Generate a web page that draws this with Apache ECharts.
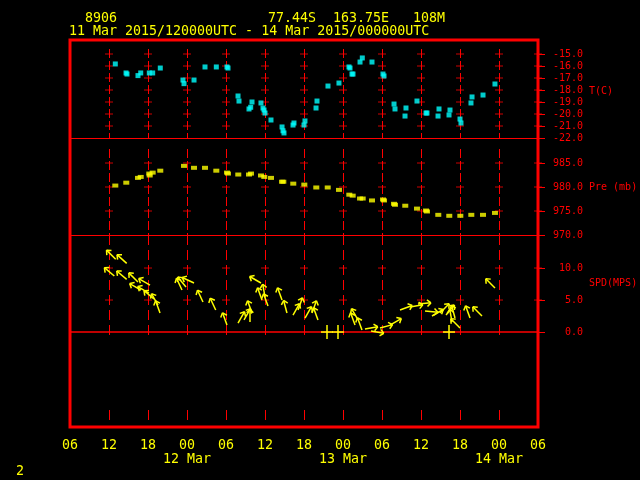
<!DOCTYPE html>
<html><head><meta charset="utf-8">
<script src="https://cdn.jsdelivr.net/npm/echarts@6/dist/echarts.min.js"></script>
<style>html,body{margin:0;padding:0;background:#000}#c{width:640px;height:480px}</style>
</head><body><div id="c"></div>
<script>
// ---- data (hours since 11 Mar 2015 00 UTC) ----
const xTickLabels = ['06','12','18','00','06','12','18','00','06','12','18','00','06'];
const dateLabels = {24:'12 Mar', 48:'13 Mar', 72:'14 Mar'};
const tTicks = [-22,-21,-20,-19,-18,-17,-16,-15];
const pTicks = [970,975,980,985];
const sTicks = [0,5,10];

const tHours = [12.97,14.62,14.77,16.46,16.88,18.2,18.72,19.89,23.38,23.54,25.08,26.77,28.51,30.15,30.31,31.85,32.0,34.0,33.54,33.8,35.38,35.69,35.85,36.0,36.92,38.62,38.77,38.92,40.31,40.46,42.0,42.15,43.85,44.0,45.69,47.38,48.92,49.08,49.38,49.54,50.62,50.97,52.46,54.15,54.31,55.85,56.0,57.54,57.69,59.38,60.77,60.92,62.62,62.77,64.31,64.46,66.0,66.15,67.69,67.85,69.54,71.38];
const tVals = [-15.83,-16.58,-16.67,-16.8,-16.58,-16.58,-16.58,-16.17,-17.17,-17.47,-17.17,-16.08,-16.08,-16.08,-16.17,-18.5,-18.92,-19.0,-19.58,-19.44,-19.08,-19.5,-19.67,-19.92,-20.5,-21.08,-21.4,-21.58,-20.92,-20.75,-20.92,-20.58,-19.5,-18.92,-17.67,-17.42,-16.08,-16.17,-16.67,-16.67,-15.67,-15.33,-15.67,-16.67,-16.83,-19.17,-19.58,-20.17,-19.5,-18.92,-19.92,-19.92,-20.17,-19.58,-20.08,-19.67,-20.42,-20.75,-19.08,-18.58,-18.42,-17.5];

const pHours = [12.97,14.66,16.46,16.88,18.2,18.26,18.72,19.89,23.54,25.08,26.77,28.51,30.15,30.31,31.89,33.54,33.85,35.38,35.89,36.92,38.62,38.82,40.35,42.05,43.89,45.65,47.38,48.97,49.49,50.62,51.03,52.46,54.15,54.31,55.85,56.0,57.58,59.38,60.77,60.92,62.66,64.35,66.05,67.74,69.54,71.38];
const pVals = [980.3,980.9,981.9,982.1,982.8,982.4,983.0,983.4,984.4,984.0,984.0,983.4,983.0,982.8,982.6,982.6,982.8,982.4,982.1,981.9,981.1,981.1,980.7,980.5,979.9,979.9,979.4,978.4,978.2,977.6,977.6,977.2,977.4,977.2,976.5,976.3,976.1,975.5,975.1,974.9,974.2,974.0,974.0,974.2,974.2,974.6];

const windHours = [13.03,14.72,12.82,14.72,16.46,18.31,16.92,18.15,18.92,19.85,19.54,23.23,25.08,23.85,26.46,28.42,30.15,31.85,32.77,33.69,34.0,35.38,35.54,36.0,36.46,38.62,39.38,40.31,41.08,42.15,43.23,44.15,50.31,49.85,50.92,51.38,52.31,53.69,55.23,56.77,58.31,59.54,60.62,61.69,62.92,63.85,64.77,65.23,66.0,67.54,69.38,71.38];
const windSpd = [11.36,10.73,8.75,8.23,7.81,7.34,6.56,6.09,5.16,2.97,4.22,6.56,7.66,7.03,4.69,3.44,1.09,1.41,1.88,1.56,2.97,7.66,5.0,5.47,4.06,5.0,2.97,2.66,3.44,2.19,2.97,1.88,1.88,1.09,0.31,0.47,0.16,0.63,1.09,3.44,3.91,4.38,3.28,2.5,2.97,2.66,1.56,2.19,0.63,2.19,2.5,6.88];
const windDir = [315,312,310,310,315,300,300,300,310,340,330,335,295,320,335,335,340,30,30,0,340,300,340,350,340,340,345,30,20,30,20,340,330,340,340,80,100,75,60,70,80,85,95,60,45,40,350,345,315,340,315,315];
const calmHours = [45.54,47.23,64.31];

// ---- helpers ----
const RED = '#ff0000', YEL = '#ffff00', CYAN = '#00ffff';
const MONO = '"DejaVu Sans Mono", "Liberation Mono", monospace';
const gridHours = [12,18,24,30,36,42,48,54,60,66,72];
const crossHours = gridHours.concat([78]);
const zip = (a, b) => a.map((v, i) => [v, b[i]]);
function crosses(levels){ const d=[]; crossHours.forEach(h=>levels.forEach(l=>d.push([h,l]))); return d; }

function vlineRender(topOff, botMode, dash){
  return function(params, api){
    const cs = params.coordSys;
    const x = Math.round(api.coord([api.value(0), 0])[0]) + 0.5;
    let y2;
    if (botMode === 'zero') y2 = api.coord([api.value(0), 0])[1] + 6;
    else y2 = cs.y + cs.height + botMode;
    const ch = [{type:'line', shape:{x1:x, y1:cs.y+topOff, x2:x, y2:y2}, style:{stroke:RED, lineWidth:1, lineDash:dash}}];
    if (botMode === 'zero') {
      const yb = cs.y + cs.height;
      ch.push({type:'line', shape:{x1:x, y1:yb-17, x2:x, y2:yb-7}, style:{stroke:RED, lineWidth:1}});
    }
    return {type:'group', children:ch};
  };
}

function arrowRender(params, api){
  const p = api.coord([api.value(0), api.value(1)]);
  const d = api.value(2) * Math.PI / 180;
  const L = 13, hl = 5;
  const hx = p[0] + L*Math.sin(d), hy = p[1] - L*Math.cos(d);
  const b1 = d + Math.PI - 0.72, b2 = d + Math.PI + 0.72;
  const st = {stroke:YEL, lineWidth:1.5};
  return {type:'group', children:[
    {type:'line', shape:{x1:p[0], y1:p[1], x2:hx, y2:hy}, style:st},
    {type:'line', shape:{x1:hx, y1:hy, x2:hx+hl*Math.sin(b1), y2:hy-hl*Math.cos(b1)}, style:st},
    {type:'line', shape:{x1:hx, y1:hy, x2:hx+hl*Math.sin(b2), y2:hy-hl*Math.cos(b2)}, style:st}
  ]};
}
function calmRender(params, api){
  const p = api.coord([api.value(0), 0]);
  const st = {stroke:YEL, lineWidth:1.5};
  return {type:'group', children:[
    {type:'line', shape:{x1:p[0]-6, y1:p[1], x2:p[0]+6, y2:p[1]}, style:st},
    {type:'line', shape:{x1:p[0], y1:p[1]-7, x2:p[0], y2:p[1]+7}, style:st}
  ]};
}

const baseX = (gi) => ({
  type:'value', gridIndex:gi, min:6, max:78, interval:6,
  axisLine:{show: gi<2, lineStyle:{color:RED, width:1}},
  axisTick:{show:false}, splitLine:{show:false},
  axisLabel:{show: gi===2, showMinLabel:true, showMaxLabel:true, hideOverlap:false,
    color:YEL, fontFamily:MONO, fontSize:13.3, lineHeight:14, margin:12,
    formatter: v => { const i = Math.round((v-6)/6); let s = xTickLabels[i]; if (dateLabels[v]) s += '\n' + dateLabels[v]; return s; }}
});
const baseY = (gi, min, max, ticks) => ({
  type:'value', gridIndex:gi, position:'right', min:min, max:max,
  axisLine:{show:true, lineStyle:{color:RED, width:1}},
  axisTick:{show:true, inside:false, length:7, customValues:ticks, lineStyle:{color:RED, width:1}},
  axisLabel:{show:true, customValues:ticks, showMinLabel:true, showMaxLabel:true, hideOverlap:false,
    color:RED, fontFamily:MONO, fontSize:10, margin:45, align:'right', formatter: v => v.toFixed(1)},
  splitLine:{show:false}
});

const chart = echarts.init(document.getElementById('c'), null, {renderer:'canvas'});
chart.setOption({
  backgroundColor:'#000',
  animation:false,
  grid:[
    {left:70, top:40, width:468, height:98},
    {left:70, top:138, width:468, height:97},
    {left:70, top:235, width:468, height:192}
  ],
  xAxis:[baseX(0), baseX(1), baseX(2)],
  yAxis:[
    baseY(0, -22, -13.8333, tTicks),
    baseY(1, 970, 990.21, pTicks),
    baseY(2, -14.84, 15.16, sTicks)
  ],
  graphic:[
    {type:'rect', shape:{x:70, y:40, width:468, height:387}, style:{fill:null, stroke:RED, lineWidth:3}, z:100},
    {type:'text', x:85, y:19, style:{text:'8906', fill:YEL, font:'13.3px '+MONO, verticalAlign:'middle'}},
    {type:'text', x:268, y:19, style:{text:'77.44S', fill:YEL, font:'13.3px '+MONO, verticalAlign:'middle'}},
    {type:'text', x:333, y:19, style:{text:'163.75E', fill:YEL, font:'13.3px '+MONO, verticalAlign:'middle'}},
    {type:'text', x:413, y:19, style:{text:'108M', fill:YEL, font:'13.3px '+MONO, verticalAlign:'middle'}},
    {type:'text', x:69, y:32, style:{text:'11 Mar 2015/120000UTC - 14 Mar 2015/000000UTC', fill:YEL, font:'13.3px '+MONO, verticalAlign:'middle'}},
    {type:'text', x:16, y:472, style:{text:'2', fill:YEL, font:'13.3px '+MONO, verticalAlign:'middle'}},
    {type:'text', x:589, y:91, style:{text:'T(C)', fill:RED, font:'10px '+MONO, verticalAlign:'middle'}},
    {type:'text', x:589, y:187, style:{text:'Pre (mb)', fill:RED, font:'10px '+MONO, verticalAlign:'middle'}},
    {type:'text', x:589, y:283, style:{text:'SPD(MPS)', fill:RED, font:'10px '+MONO, verticalAlign:'middle'}}
  ],
  series:[
    {type:'custom', xAxisIndex:0, yAxisIndex:0, silent:true, z:1, renderItem: vlineRender(9, 0, [9,3]), data: gridHours.map(h=>[h])},
    {type:'custom', xAxisIndex:1, yAxisIndex:1, silent:true, z:1, renderItem: vlineRender(11, 3, [9,3]), data: gridHours.map(h=>[h])},
    {type:'custom', xAxisIndex:2, yAxisIndex:2, silent:true, z:1, renderItem: vlineRender(0, 'zero', [10,5]), data: gridHours.map(h=>[h])},
    {type:'scatter', xAxisIndex:0, yAxisIndex:0, silent:true, z:1, symbol:'rect', symbolSize:[8,1], itemStyle:{color:RED}, data: crosses([-21,-20,-19,-18,-17,-16,-15])},
    {type:'scatter', xAxisIndex:1, yAxisIndex:1, silent:true, z:1, symbol:'rect', symbolSize:[8,1], itemStyle:{color:RED}, data: crosses([975,980,985])},
    {type:'scatter', xAxisIndex:2, yAxisIndex:2, silent:true, z:1, symbol:'rect', symbolSize:[8,1], itemStyle:{color:RED}, data: crosses([5,10]),
      markLine:{silent:true, symbol:['none','none'], label:{show:false}, lineStyle:{color:RED, width:1.5, type:'solid'}, data:[{yAxis:0}]}},
    {type:'scatter', name:'T', xAxisIndex:0, yAxisIndex:0, z:5, symbol:'rect', symbolSize:5, itemStyle:{color:CYAN}, data: zip(tHours, tVals)},
    {type:'scatter', name:'Pre', xAxisIndex:1, yAxisIndex:1, z:5, symbol:'rect', symbolSize:[6,4], itemStyle:{color:YEL}, data: zip(pHours, pVals)},
    {type:'custom', name:'Wind', xAxisIndex:2, yAxisIndex:2, z:5, renderItem: arrowRender, clip:false,
      data: windHours.map((h,i)=>[h, windSpd[i], windDir[i]])},
    {type:'custom', name:'Calm', xAxisIndex:2, yAxisIndex:2, z:5, renderItem: calmRender, clip:false,
      data: calmHours.map(h=>[h])}
  ]
});
</script></body></html>
